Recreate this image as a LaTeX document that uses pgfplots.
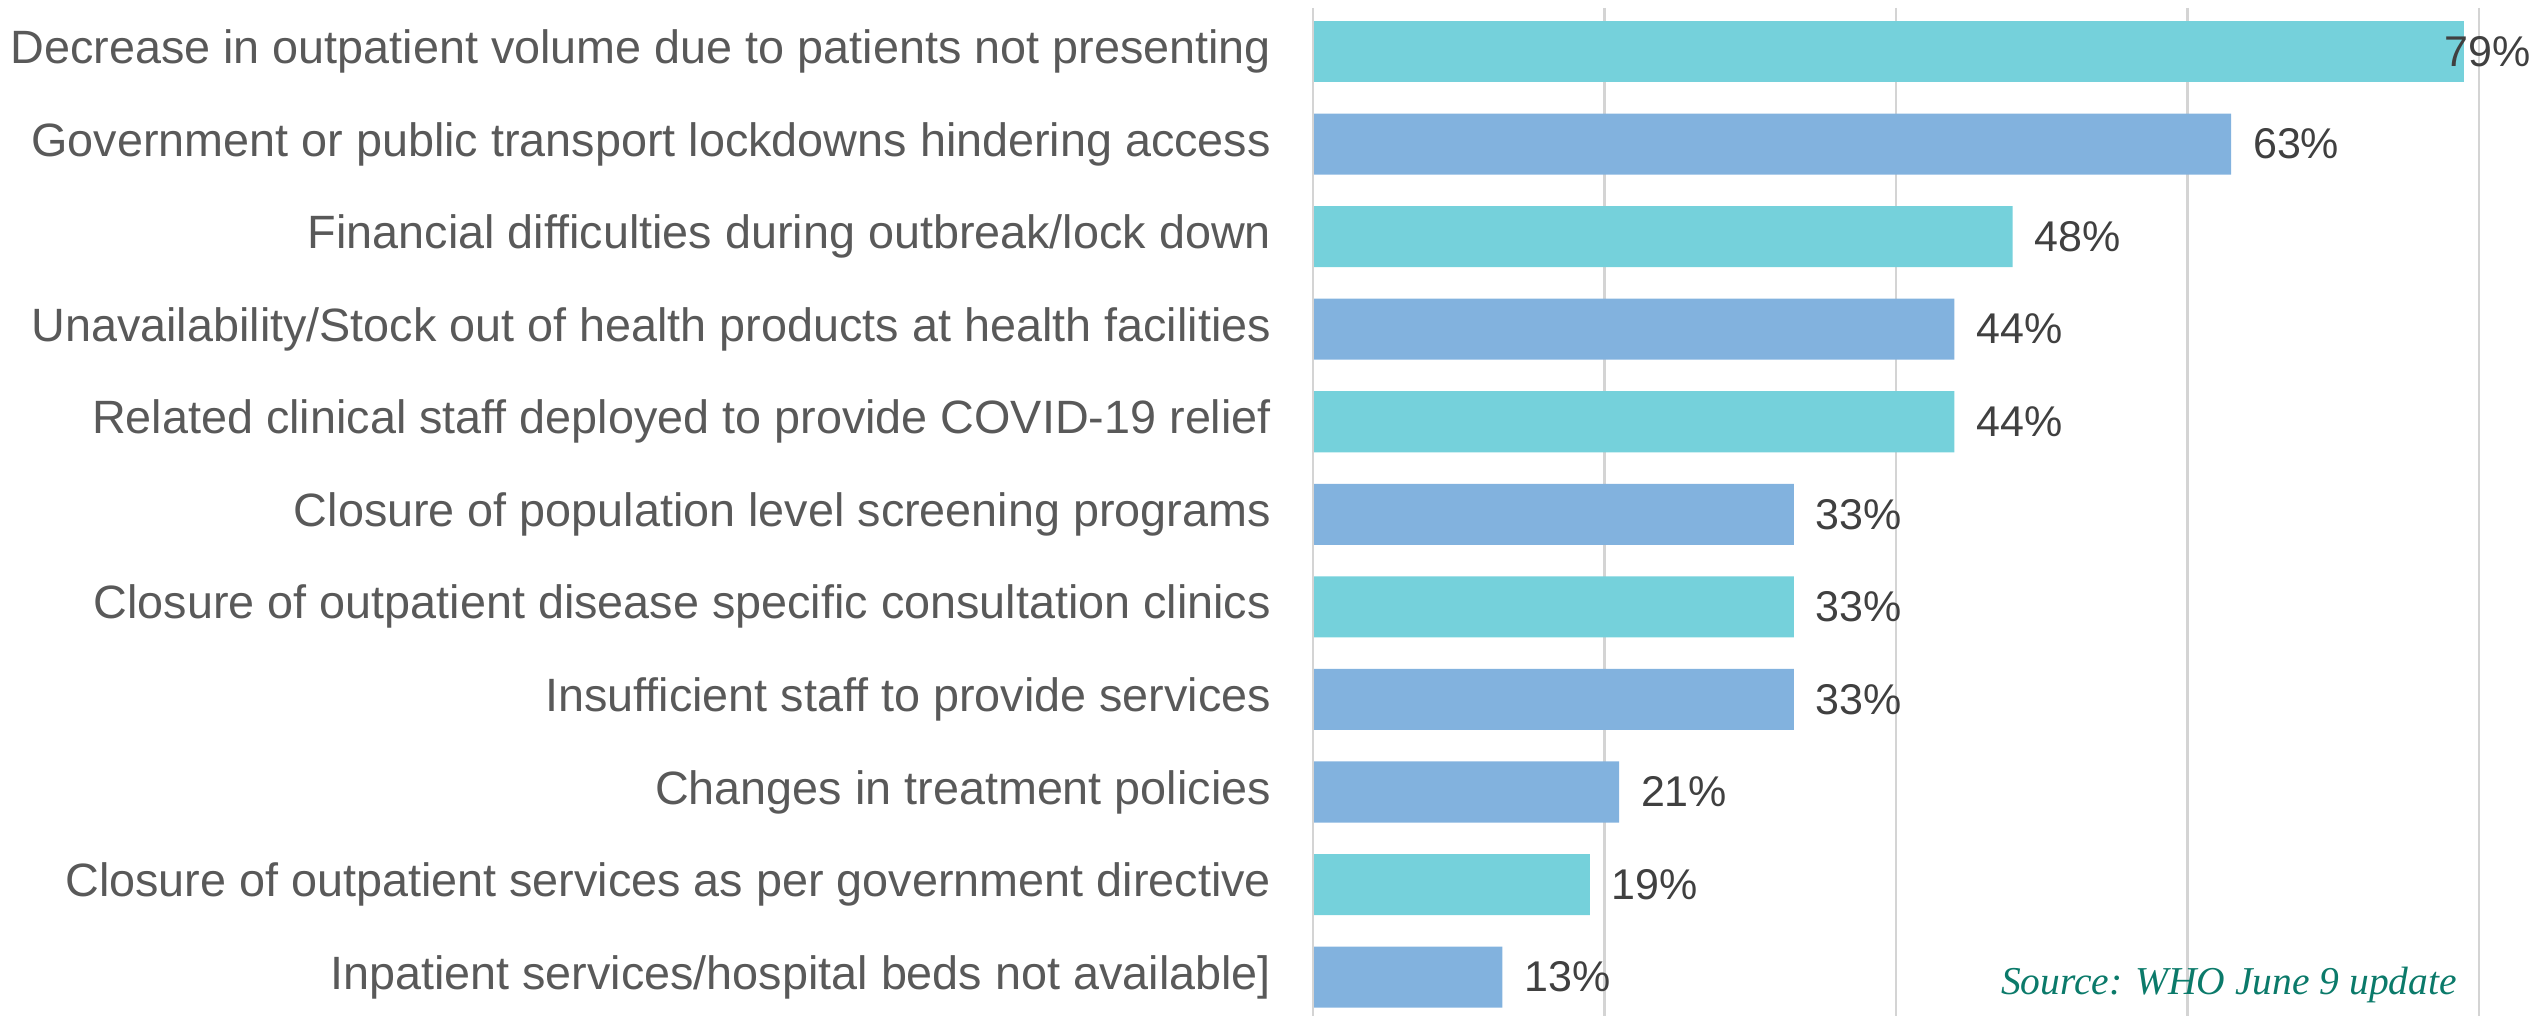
\documentclass[border=0pt]{standalone}
\usepackage{pgfplots}
\pgfplotsset{compat=1.18}
\usepackage{fontspec}
\setmainfont{Liberation Sans}
\newfontfamily\srcfont{Liberation Serif}
\definecolor{barteal}{RGB}{117,209,219}
\definecolor{barblue}{RGB}{130,178,222}
\definecolor{gridgray}{RGB}{212,212,212}
\definecolor{catgray}{RGB}{89,89,89}
\definecolor{valgray}{RGB}{64,64,64}
\definecolor{srcgreen}{RGB}{11,122,106}
\begin{document}
\begin{tikzpicture}
\useasboundingbox (-262.6pt,0pt) rectangle (243.8pt,203.2pt);
\begin{axis}[
  scale only axis,
  width=233.2pt, height=201.6pt,
  xmin=0, xmax=80,
  ymin=-0.47, ymax=10.42,
  y dir=reverse,
  axis line style={draw=none},
  xtick={0,20,40,60,80},
  xticklabels={},
  xmajorgrids,
  major grid style={gridgray, line width=0.45pt},
  major tick length=0pt,
  /pgf/number format/assume math mode=true,
  ytick={0,...,10},
  yticklabels={
    Decrease in outpatient volume due to patients not presenting,
    Government or public transport lockdowns hindering access,
    Financial difficulties during outbreak/lock down,
    Unavailability/Stock out of health products at health facilities,
    Related clinical staff deployed to provide COVID-19 relief,
    Closure of population level screening programs,
    Closure of outpatient disease specific consultation clinics,
    Insufficient staff to provide services,
    Changes in treatment policies,
    Closure of outpatient services as per government directive,
    Inpatient services/hospital beds not available]
  },
  yticklabel style={font=\fontsize{9.35pt}{10pt}\selectfont, text=catgray, inner sep=0pt, xshift=-8.2pt},
  xbar, bar width=0.66, bar shift=0pt,
  point meta=x,
  nodes near coords={\pgfmathprintnumber{\pgfplotspointmeta}\%},
  every node near coord/.append style={font=\fontsize{8.6pt}{10pt}\selectfont, text=valgray, anchor=west, inner sep=0pt, xshift=4.2pt},
  clip=false,
]
\addplot[fill=barteal, draw=none, every node near coord/.append style={xshift=-8.4pt}] coordinates {(79,0)};
\addplot[fill=barteal, draw=none] coordinates {(48,2) (44,4) (33,6) (19,9)};
\addplot[fill=barblue, draw=none] coordinates {(63,1) (44,3) (33,5) (33,7) (21,8) (13,10)};
\draw[gridgray, line width=0.45pt] (rel axis cs:0,0) -- (rel axis cs:0,1);
\node[anchor=base east, inner sep=0pt, text=srcgreen, font=\srcfont\itshape\fontsize{7.9pt}{10pt}\selectfont] at (rel axis cs:0.982,0.021) {Source: WHO June 9 update};
\end{axis}
\end{tikzpicture}
\end{document}
